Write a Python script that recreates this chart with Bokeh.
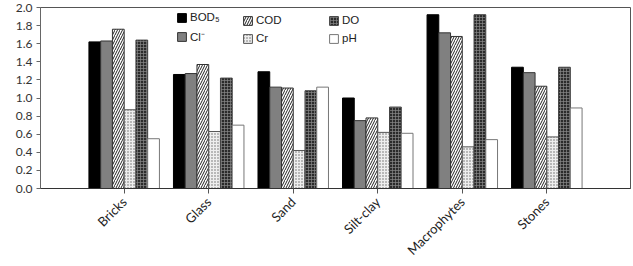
from math import pi

from bokeh.embed import file_html
from bokeh.resources import INLINE
from bokeh.plotting import figure
from bokeh.models import (ColumnDataSource, FactorRange, Legend, LegendItem,
                          FixedTicker, NumeralTickFormatter)
from bokeh.transform import dodge

# Substrate categories and measured parameter values
categories = ["Bricks", "Glass", "Sand", "Silt-clay", "Macrophytes", "Stones"]
bod5 = [1.62, 1.26, 1.29, 1.00, 1.92, 1.34]
chloride = [1.63, 1.27, 1.12, 0.75, 1.72, 1.28]
cod = [1.76, 1.37, 1.11, 0.78, 1.68, 1.13]
chromium = [0.87, 0.63, 0.42, 0.62, 0.46, 0.57]
do = [1.64, 1.22, 1.08, 0.90, 1.92, 1.34]
ph = [0.55, 0.70, 1.12, 0.61, 0.54, 0.89]
y_ticks = [0.0, 0.2, 0.4, 0.6, 0.8, 1.0, 1.2, 1.4, 1.6, 1.8, 2.0]

source = ColumnDataSource(dict(cat=categories, bod5=bod5, cl=chloride, cod=cod,
                               cr=chromium, do=do, ph=ph))

p = figure(width=633, height=266, output_backend="svg", toolbar_location=None,
           x_range=FactorRange(factors=categories, range_padding=0.49,
                               range_padding_units="absolute"),
           y_range=(0, 2.0),
           min_border_left=40, min_border_right=3, min_border_top=7,
           min_border_bottom=78)

bw = 0.139
styles = [
    ("bod5", "BOD₅", dict(fill_color="black", line_color="black")),
    ("cl", "Cl⁻", dict(fill_color="#808080", line_color="#333333")),
    ("cod", "COD", dict(fill_color="white", line_color="#333333",
                        hatch_pattern="/", hatch_color="#222222",
                        hatch_scale=5, hatch_weight=1)),
    ("cr", "Cr", dict(fill_color="#eeeeee", line_color="#555555",
                      hatch_pattern=".", hatch_color="#666666",
                      hatch_scale=3, hatch_weight=1)),
    ("do", "DO", dict(fill_color="#2b2b2b", line_color="#444444",
                      hatch_pattern="+", hatch_color="#888888",
                      hatch_scale=3, hatch_weight=0.7)),
    ("ph", "pH", dict(fill_color="white", line_color="#777777")),
]

renderers = {}
for k, (col, label, st) in enumerate(styles):
    r = p.vbar(x=dodge("cat", (k - 2.5) * bw, range=p.x_range), top=col,
               width=bw, bottom=0, source=source, line_width=1, **st)
    renderers[col] = (label, r)

# Three legend columns across the top of the plot area
legend_cols = [(136, ["bod5", "cl"]), (202, ["cod", "cr"]), (288, ["do", "ph"])]
for x0, cols in legend_cols:
    items = [LegendItem(label=renderers[c][0], renderers=[renderers[c][1]])
             for c in cols]
    lg = Legend(items=items, location=(x0, 144), orientation="vertical",
                padding=0, margin=0, spacing=6, glyph_width=11, glyph_height=11,
                label_height=11, label_standoff=3,
                label_text_font="Liberation Sans", label_text_font_size="11.5px",
                label_text_color="#222222", border_line_alpha=0,
                background_fill_alpha=0)
    p.add_layout(lg, "center")

p.xgrid.visible = False
p.ygrid.visible = False
p.outline_line_color = "#555555"
p.outline_line_width = 1

p.yaxis.ticker = FixedTicker(ticks=y_ticks)
p.yaxis.formatter = NumeralTickFormatter(format="0.0")
p.yaxis.major_tick_in = 0
p.yaxis.major_tick_out = 4
p.yaxis.minor_tick_line_color = None
p.yaxis.axis_line_color = "#666666"
p.yaxis.major_tick_line_color = "#666666"
p.yaxis.major_label_text_font = "Lato"
p.yaxis.major_label_text_font_size = "12px"
p.yaxis.major_label_text_color = "#333333"
p.yaxis.major_label_standoff = 4

p.xaxis.major_tick_in = 0
p.xaxis.major_tick_out = 5
p.xaxis.axis_line_color = "#333333"
p.xaxis.major_tick_line_color = "#555555"
p.xaxis.major_label_orientation = pi / 4
p.xaxis.major_label_text_font = "Lato"
p.xaxis.major_label_text_font_size = "13px"
p.xaxis.major_label_text_color = "#222222"
p.xaxis.major_label_standoff = 6

open("out.html", "w").write(file_html(p, INLINE))
